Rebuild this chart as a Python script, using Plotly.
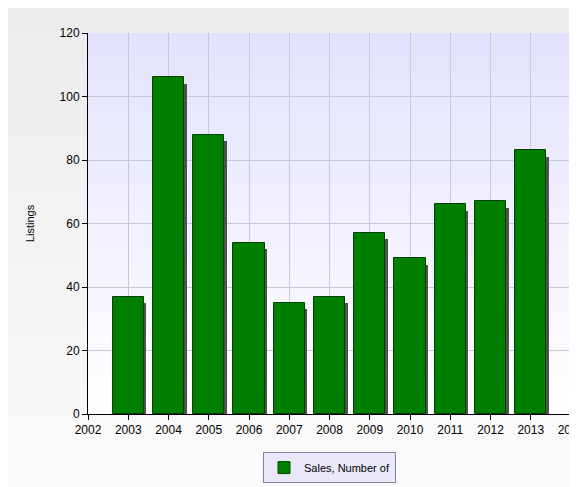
import plotly.graph_objects as go

years = [2003, 2004, 2005, 2006, 2007, 2008, 2009, 2010, 2011, 2012, 2013]
sales = [37, 106, 88, 54, 35, 37, 57, 49, 66, 67, 83]

fig = go.Figure()

# drop shadow behind the bars
fig.add_trace(go.Bar(
    x=[y + 0.06 for y in years], y=[s - 1 for s in sales], base=-1,
    width=0.78, marker=dict(color="#505050", line_width=0),
    showlegend=False, hoverinfo="skip"))

fig.add_trace(go.Bar(
    x=years, y=sales, width=0.78, name="Sales, Number of",
    marker=dict(color="#007f00", line=dict(color="#004000", width=1))))

shapes = []
n = 30
# outer background gradient (drawn first)
for i in range(n):
    t = i / (n - 1)
    c = int(236 + (252 - 236) * t)
    shapes.append(dict(type="rect", xref="paper", yref="paper",
                       x0=-0.2, x1=1.05, y0=1.1 - (i + 1) * 1.4 / n, y1=1.1 - i * 1.4 / n,
                       fillcolor=f"rgb({c},{c},{c})", line_width=0, layer="below"))
# plot background: lavender at top fading to white
for i in range(n):
    t = i / (n - 1)
    r = int(226 + (255 - 226) * t)
    shapes.append(dict(type="rect", xref="x domain", yref="y domain",
                       x0=0, x1=1, y0=1 - (i + 1) / n, y1=1 - i / n,
                       fillcolor=f"rgb({r},{r},255)", line_width=0, layer="below"))

fig.update_layout(
    width=577, height=487,
    margin=dict(l=80, r=14, t=25, b=73),
    paper_bgcolor="#f4f4f4", plot_bgcolor="rgba(0,0,0,0)",
    barmode="overlay", bargap=0,
    shapes=shapes,
    font=dict(family="Liberation Sans, Arial", size=12, color="black"),
    showlegend=True,
    legend=dict(orientation="h", x=0.5, xanchor="center", y=-0.1, yanchor="top",
                bgcolor="#e8e8f8", bordercolor="#8080a0", borderwidth=1,
                font=dict(size=11)),
    xaxis=dict(range=[2002, 2014], tickmode="linear", tick0=2002, dtick=1,
               automargin=False,
               showgrid=True, gridcolor="#c8c8d8", ticks="outside", ticklen=5,
               tickcolor="black", showline=True, linecolor="black", zeroline=False),
    yaxis=dict(range=[0, 120], dtick=20, showgrid=True, gridcolor="#c8c8d8",
               automargin=False,
               ticks="outside", ticklen=5, tickcolor="black", showline=True,
               linecolor="black", zeroline=False,
               title=dict(text="Listings", font=dict(size=11), standoff=22)),
)

fig.write_html("out.html")
